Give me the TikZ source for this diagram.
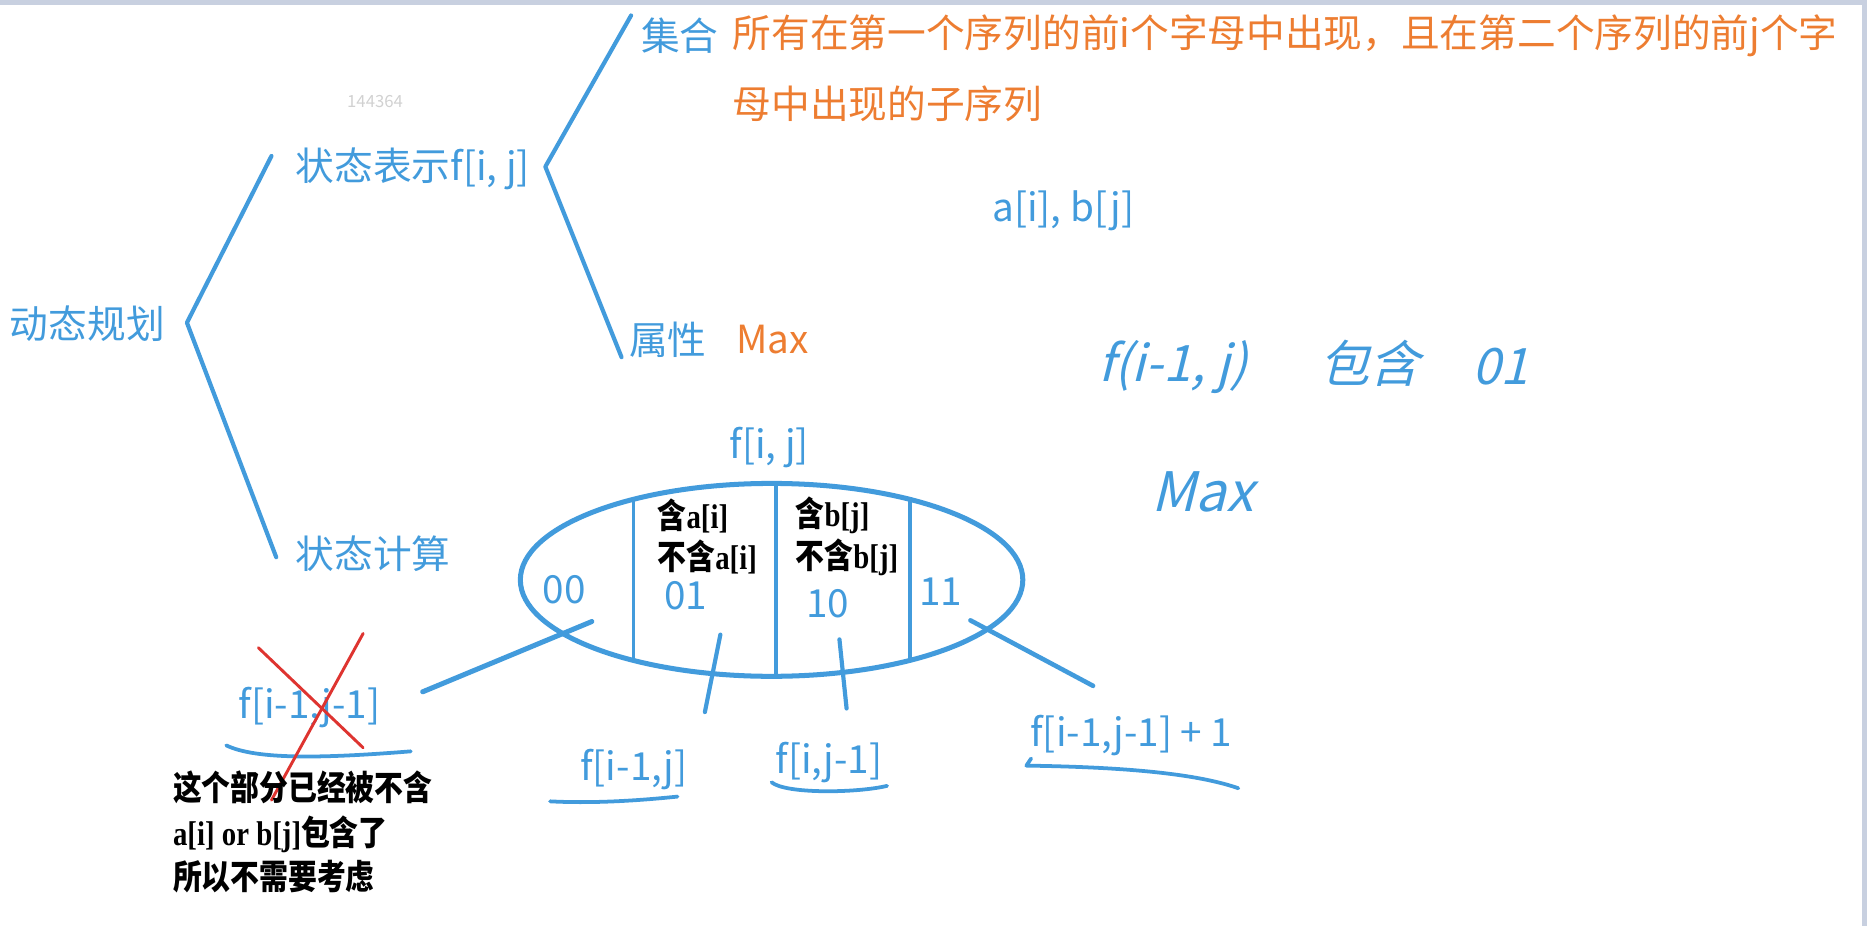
\documentclass[tikz,border=0pt]{standalone}
\usepackage{fontspec}
\setmainfont{Noto Sans CJK SC}
\newfontfamily\latfont{Liberation Serif}[FakeStretch=0.84]
\newfontfamily\notefont{Noto Sans CJK SC}[FakeStretch=0.84]
\newfontfamily\handfont{Noto Sans CJK SC}[FakeSlant=0.25]
\newcommand{\lat}[1]{{\latfont #1}}
\definecolor{penblue}{RGB}{66,155,220}
\definecolor{textorange}{RGB}{237,125,49}
\definecolor{inkred}{RGB}{222,52,48}
\definecolor{framegray}{RGB}{200,208,224}

\begin{document}
\begin{tikzpicture}[x=0.02cm,y=-0.02cm,
  lbl/.style={text=penblue,font=\fontsize{18.5}{22}\selectfont,inner sep=0pt},
  desc/.style={text=textorange,font=\fontsize{18.5}{22}\selectfont,inner sep=0pt,anchor=west},
  note/.style={text=black,font=\fontsize{16.4}{21.3}\selectfont\notefont\bfseries,inner sep=0pt,anchor=west},
  pen/.style={draw=penblue,line width=2pt,line cap=round,line join=round},
  hand/.style={text=penblue,font=\fontsize{24}{28}\selectfont\handfont,inner sep=0pt}]
\useasboundingbox (0,0) rectangle (1568,778);
\fill [framegray] (0,0) rectangle (1568,4);
\fill [framegray] (1564,0) rectangle (1568,778);
\node (mark) [text=black!18,font=\fontsize{8}{9}\selectfont,inner sep=0pt] at (315,85) {144364};

\node (dp) [lbl,anchor=west] at (8,272) {动态规划};
\node (rep) [lbl,anchor=west] at (248,142) {状态表示f[i, j]};
\node (calc) [lbl,anchor=west] at (248,465) {状态计算};
\node (set) [lbl,anchor=west] at (538,30) {集合};
\node (attr) [lbl,anchor=west] at (528,285) {属性};
\node (desc1) [desc] at (615,30) {所有在第一个序列的前i个字母中出现，且在第二个序列的前j个字};
\node (desc2) [desc] at (615,87) {母中出现的子序列};
\node (maxv) [desc] at (618,285) {Max};
\node (ab) [lbl,anchor=west] at (833,177) {a[i], b[j]};

\coordinate (top1) at (228,131);
\coordinate (apex1) at (157,271);
\coordinate (bot1) at (232,468);
\coordinate (top2) at (530,13);
\coordinate (apex2) at (458,140);
\coordinate (bot2) at (522,300);
\draw [pen] (top1) -- (apex1) -- (bot1);
\draw [pen] (top2) -- (apex2) -- (bot2);

\node (hw1) [hand] at (985,308) {f(i-1, j)};
\node (hw2) [hand] at (1150,305) {包含};
\node (hw3) [hand] at (1260,308) {01};
\node (hw4) [hand,font=\fontsize{26}{30}\selectfont\handfont] at (1010,413) {Max};

\node (fij) [lbl] at (646,376) {f[i, j]};
\draw [pen,line width=2.4pt] (648,487) ellipse [x radius=211, y radius=81];
\begin{scope}
\clip (648,487) ellipse [x radius=211, y radius=81];
\foreach \x in {532,652,764}
  \draw [pen,line width=1.8pt] (\x,380) -- (\x,600);
\end{scope}
\node (s00) [lbl] at (474,495) {00};
\node (s01) [lbl] at (576,500) {01};
\node (s10) [lbl] at (695,507) {10};
\node (s11) [lbl] at (790,497) {11};
\node (ina) [note] at (552,433) {含\lat{a[i]}};
\node (outa) [note] at (552,468) {不含\lat{a[i]}};
\node (inb) [note] at (668,433) {含\lat{b[j]}};
\node (outb) [note] at (668,468) {不含\lat{b[j]}};

\node (f00) [lbl,anchor=west] at (200,594) {f[i-1,j-1]};
\node (f01) [lbl,anchor=west] at (487,646) {f[i-1,j]};
\node (f10) [lbl,anchor=west] at (651,640) {f[i,j-1]};
\node (f11) [lbl,anchor=west] at (865,618) {f[i-1,j-1] + 1};

\coordinate (c00a) at (497,522);
\coordinate (c00b) at (355,581);
\coordinate (c01a) at (605,533);
\coordinate (c01b) at (592,598);
\coordinate (c10a) at (705,537);
\coordinate (c10b) at (711,595);
\coordinate (c11a) at (815,521);
\coordinate (c11b) at (918,576);
\draw [pen,line width=2.4pt] (c00a) -- (c00b);
\draw [pen] (c01a) -- (c01b);
\draw [pen] (c10a) -- (c10b);
\draw [pen,line width=2.2pt] (c11a) -- (c11b);

\draw [pen,line width=1.8pt] (190,626) .. controls (215,638) and (270,637) .. (345,631);
\draw [pen,line width=1.8pt] (462,673) .. controls (500,675) and (540,672) .. (569,669);
\draw [pen,line width=1.8pt] (648,657) .. controls (660,667) and (720,666) .. (745,660);
\draw [pen,line width=1.8pt] (866,637) -- (862,643) .. controls (930,644) and (1000,648) .. (1040,662);

\draw [inkred,line width=1.4pt,line cap=round] (217,544) -- (305,628);
\draw [inkred,line width=1.4pt,line cap=round] (305,532) -- (228,672);

\node (why) [note,align=left] at (145,699) {这个部分已经被不含\\\lat{a[i] or b[j]}包含了\\所以不需要考虑};
\end{tikzpicture}
\end{document}
